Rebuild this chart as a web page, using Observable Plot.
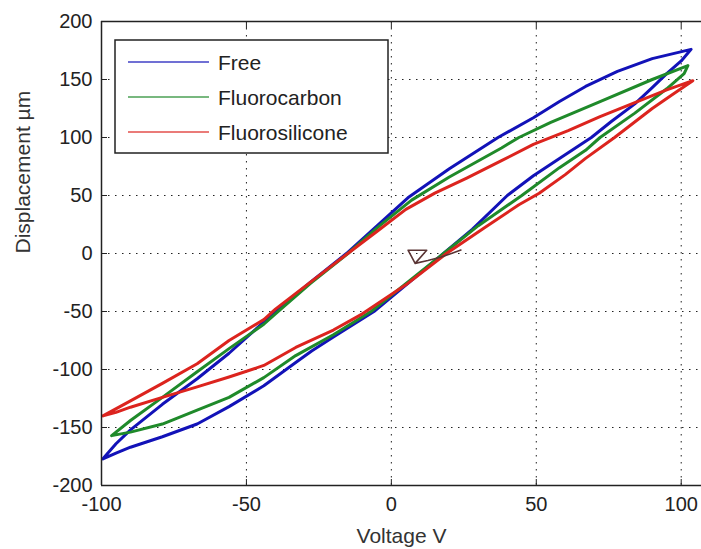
<!DOCTYPE html>
<html><head><meta charset="utf-8">
<script src="https://cdn.jsdelivr.net/npm/d3@7"></script>
<script src="https://cdn.jsdelivr.net/npm/@observablehq/plot@0.6"></script>
<style>
html,body{margin:0;padding:0;background:#fff;}
#chart{position:relative;width:701px;height:549px;overflow:hidden;}
#chart svg{display:block;}
</style></head><body><div id="chart"></div>
<script>
const seriesNames = ["Free", "Fluorocarbon", "Fluorosilicone"];
const seriesColors = ["#1212b8", "#1f8a2a", "#dc241e"];
const xLabel = "Voltage V";
const yLabel = "Displacement µm";
const xTicks = [-100, -50, 0, 50, 100];
const yTicks = [-200, -150, -100, -50, 0, 50, 100, 150, 200];

// Free: rising branch then falling branch (closed loop)
const freeVoltage = [-99.5,-95,-90,-79,-67,-56,-44,-33,-27.5,-20,-6,8,18,28,40,49,58,69,76,84,90,95,100,103.4,
  90,78,67,58,49,36.8,20,5.7,-4,-15.5,-28,-40,-48,-56,-67,-79,-90,-95,-99.5];
const freeDisp = [-177,-172,-167,-158,-147,-132,-114,-94,-84,-72,-50,-21,0,21,50,67,82,100,114,129,143,155,166,176,
  168,157,144,131,117,100,73,48,26,0,-25,-50,-68,-86,-108,-130,-152,-164,-177];

// Fluorocarbon
const carbonVoltage = [-96.5,-90,-79,-67,-56,-44,-33,-20,-7,5,18,30,45,58,67,72,84,95,101,102.3,
  90,72,55,44,38,20,7,-4,-15,-28,-40,-44,-56,-67,-79,-90,-96.5];
const carbonDisp = [-157,-154,-147,-135,-124,-107,-88,-70,-50,-26,0,24,50,74,89,100,121,142,155,162,
  150,131,113,100,91,66,46,24,0,-26,-52,-61,-82,-102,-124,-144,-157];

// Fluorosilicone
const siliconeVoltage = [-99.5,-95,-90,-79,-67,-56,-44,-33,-20,-10,5,19,32,44,51,60,67,77,90,97,104,
  95,84,72,61,49,38,26,15,5,-5,-14,-27,-40,-44,-56,-67,-79,-90,-99.5];
const siliconeDisp = [-140,-137,-132.5,-124,-115,-106.5,-96.5,-81,-66,-52,-27,0,22,42,52,68,82,100,125,137,149,
  141,130,118,106,94,80,65,52,38,19,2,-23,-48,-57,-75,-95,-112,-127,-140];

// small start-up trace near the origin
const startVoltage = [24,20.7,17.2,12.6,8.2,5.8,12.2,8.2];
const startDisp = [3,0,-3,-6,-8.5,2.8,2.8,-8.5];

function rows(name, V, D) { return V.map((v, i) => ({series: name, voltage: v, disp: D[i]})); }
const data = [
  ...rows(seriesNames[0], freeVoltage, freeDisp),
  ...rows(seriesNames[1], carbonVoltage, carbonDisp),
  ...rows(seriesNames[2], siliconeVoltage, siliconeDisp)
];
const startData = rows("start", startVoltage, startDisp);

const gridStyle = {stroke: "#222", strokeOpacity: 1, strokeWidth: 1, strokeDasharray: "1.5,5.5"};
const plot = Plot.plot({
  width: 701, height: 549,
  marginLeft: 101, marginRight: 0, marginTop: 21, marginBottom: 64,
  style: {fontFamily: "'Liberation Sans', Arial, sans-serif", fontSize: "20px", color: "#222", background: "#fff"},
  x: {domain: [-100, 107], label: null},
  y: {domain: [-200, 200], label: null},
  color: {domain: seriesNames, range: seriesColors},
  marks: [
    Plot.gridX(xTicks.slice(1), gridStyle),
    Plot.gridY(yTicks.slice(1, -1), gridStyle),
    Plot.line(data, {x: "voltage", y: "disp", z: "series", stroke: "series", strokeWidth: 3, strokeLinejoin: "round"}),
    Plot.line(startData, {x: "voltage", y: "disp", stroke: "#5a3434", strokeWidth: 1.6}),
    Plot.ruleY([yTicks[0], yTicks[yTicks.length - 1]], {stroke: "#222", strokeWidth: 1.5}),
    Plot.ruleX([xTicks[0]], {stroke: "#222", strokeWidth: 1.5}),
    Plot.axisX(xTicks, {anchor: "bottom", tickSize: -6, tickPadding: 17, label: null, tickFormat: d => String(d)}),
    Plot.axisX(xTicks, {anchor: "top", tickSize: -6, fill: "none", label: null}),
    Plot.axisY(yTicks, {anchor: "left", tickSize: -6, tickPadding: 15, label: null, tickFormat: d => String(d)}),
    Plot.text([xLabel], {frameAnchor: "bottom", dy: 57, fontSize: 21, fill: "#333"}),
    Plot.text([yLabel], {frameAnchor: "left", dx: -78, rotate: -90, fontSize: 21, fill: "#333"})
  ]
});
document.getElementById("chart").appendChild(plot);

// legend box (MATLAB style, inside the axes)
const svg = d3.select(plot);
const lg = svg.append("g").attr("font-family", "'Liberation Sans', Arial, sans-serif")
  .attr("font-size", 21).attr("text-anchor", "start");
lg.append("rect").attr("x", 115).attr("y", 40).attr("width", 273).attr("height", 113)
  .attr("fill", "#fff").attr("stroke", "#222").attr("stroke-width", 1.5);
seriesNames.forEach((name, i) => {
  const y = 62 + i * 35;
  lg.append("line").attr("x1", 128).attr("x2", 209).attr("y1", y).attr("y2", y)
    .attr("stroke", seriesColors[i]).attr("stroke-width", 1.3).attr("stroke-opacity", 0.8);
  lg.append("text").attr("x", 218).attr("y", y + 7.5).attr("text-anchor", "start")
    .attr("fill", "#222").text(name);
});
</script>
</body></html>
